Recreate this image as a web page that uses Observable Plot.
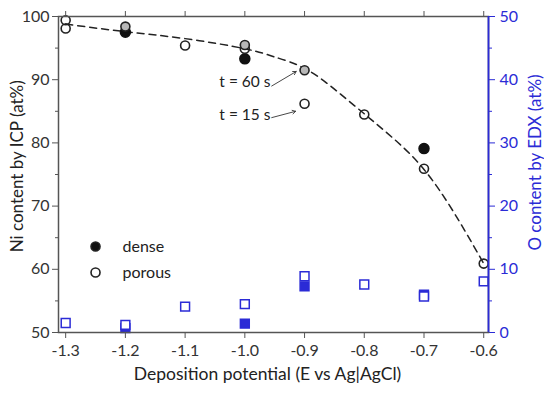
<!DOCTYPE html>
<html><head><meta charset="utf-8">
<script src="https://cdn.jsdelivr.net/npm/d3@7"></script>
<script src="https://cdn.jsdelivr.net/npm/@observablehq/plot@0.6"></script>
<style>body{margin:0;background:#fff} svg{display:block}</style>
</head><body><div id="chart"></div>
<script>
// ---- data ----
const potentials = [-1.3, -1.2, -1.1, -1.0, -0.9, -0.8, -0.7, -0.6];
const densePotential = [-1.2, -1.0, -0.7];
const denseNi = [97.5, 93.3, 79.1];
const porousPotential = [-1.3, -1.3, -1.1, -1.0, -0.9, -0.8, -0.7, -0.6];
const porousNi = [99.4, 98.1, 95.4, 94.9, 86.2, 84.5, 75.9, 60.9];
const greyPotential = [-1.2, -1.0, -0.9];
const greyNi = [98.4, 95.5, 91.5];
const fitPotential = [-1.3, -1.2, -1.1, -1.0, -0.95, -0.9, -0.85, -0.8, -0.75, -0.7, -0.65, -0.6];
const fitNi = [98.8, 97.6, 96.5, 94.9, 93.6, 91.8, 88.5, 84.6, 80.6, 75.8, 69.0, 60.9];
const oPorousPotential = [-1.3, -1.2, -1.1, -1.0, -0.9, -0.8, -0.7, -0.6];
const oPorous = [1.5, 1.2, 4.1, 4.5, 8.9, 7.6, 5.7, 8.1];
const oDensePotential = [-1.2, -1.0, -0.9, -0.7];
const oDense = [0.7, 1.4, 7.3, 6.0];
const niTicks = [50, 60, 70, 80, 90, 100];
const niMinor = [55, 65, 75, 85, 95];
const oTicks = [0, 10, 20, 30, 40, 50];
const oMinor = [5, 15, 25, 35, 45];
const legendLabels = ["dense", "porous"];
const legendNi = [63.6, 59.5];
const legendPotential = -1.25;
const annLabels = ["t = 60 s", "t = 15 s"];
const annTextPotential = -0.957;
const annTextNi = [89.6, 84.4];
const annFrom = [[-0.955, 89.0], [-0.955, 84.0]];
const annTo = [[-0.914, 91.3], [-0.915, 85.0]];
const xLabel = "Deposition potential (E vs Ag|AgCl)";
const yLabel = "Ni content by ICP (at%)";
const y2Label = "O content by EDX (at%)";
const yLabelAt = 76.3;   // vertical centre of the left title, on the Ni scale
const y2LabelAt = 76.9;  // vertical centre of the right title, on the Ni scale

// ---- helpers ----
const zip2 = (xs, ys) => xs.map((x, i) => ({x, y: ys[i]}));
const oOffset = 50; // O axis 0..50 maps onto Ni axis 50..100
const blue = "#2b2bd6";
const ink = "#333";
const font = "Lato, sans-serif";
const xDomain = [-1.312, -0.592];

const chart = Plot.plot({
  width: 544, height: 394,
  marginLeft: 58, marginRight: 56, marginTop: 16, marginBottom: 62,
  style: {fontFamily: font, background: "#fff"},
  x: {domain: xDomain},
  y: {domain: [50, 100]},
  marks: [
    Plot.line(zip2(fitPotential, fitNi), {x: "x", y: "y", curve: "natural", stroke: "#222", strokeWidth: 1.5, strokeDasharray: "7,5"}),
    Plot.dot(zip2(oDensePotential, oDense), {x: "x", y: d => d.y + oOffset, symbol: "square", r: 5, fill: blue, stroke: blue}),
    Plot.dot(zip2(oPorousPotential, oPorous), {x: "x", y: d => d.y + oOffset, symbol: "square", r: 5, fill: "white", stroke: blue, strokeWidth: 1.5}),
    Plot.dot(zip2(densePotential, denseNi), {x: "x", y: "y", r: 5, fill: "#111", stroke: "#111"}),
    Plot.dot(zip2(porousPotential, porousNi), {x: "x", y: "y", r: 4.5, fill: "none", stroke: "#222", strokeWidth: 1.6}),
    Plot.dot(zip2(greyPotential, greyNi), {x: "x", y: "y", r: 4.5, fill: "#b8b8b8", stroke: "#222", strokeWidth: 1.6}),
    // annotations
    Plot.text(annLabels, {x: () => annTextPotential, y: (d, i) => annTextNi[i], text: d => d, textAnchor: "end", fontSize: 15.5, fill: "#222"}),
    Plot.arrow(annLabels, {x1: (d, i) => annFrom[i][0], y1: (d, i) => annFrom[i][1], x2: (d, i) => annTo[i][0], y2: (d, i) => annTo[i][1], stroke: "#333", strokeWidth: 0.9, headLength: 6}),
    // legend
    Plot.dot(legendLabels, {x: () => legendPotential, y: (d, i) => legendNi[i], r: 4.5, fill: (d, i) => i === 0 ? "#111" : "none", stroke: "#222", strokeWidth: 1.6}),
    Plot.text(legendLabels, {x: () => legendPotential, y: (d, i) => legendNi[i], text: d => d, dx: 27, textAnchor: "start", fontSize: 16, fill: "#222"}),
    // axes
    Plot.axisX(potentials, {anchor: "bottom", tickSize: 6, tickPadding: 6, tickFormat: d => d.toFixed(1), fontSize: 16, color: ink, label: null, stroke: "#555"}),
    Plot.axisX(potentials, {anchor: "top", tickSize: 6, tickFormat: () => "", label: null, stroke: "#555"}),
    Plot.axisY(niTicks, {anchor: "left", tickSize: 6, tickPadding: 3, fontSize: 16, color: ink, label: null, stroke: "#555"}),
    Plot.axisY(niMinor, {anchor: "left", tickSize: 3, tickFormat: () => "", label: null, stroke: "#555"}),
    Plot.axisY(oTicks.map(v => v + oOffset), {anchor: "right", tickSize: 6, tickPadding: 5, tickFormat: v => String(v - oOffset), fontSize: 16, color: blue, label: null}),
    Plot.axisY(oMinor.map(v => v + oOffset), {anchor: "right", tickSize: 3, tickFormat: () => "", color: blue, label: null}),
    Plot.frame({stroke: "#555", strokeWidth: 1.5}),
    Plot.ruleX([xDomain[1]], {stroke: blue, strokeWidth: 1.8}),
    // axis titles
    Plot.text([xLabel], {frameAnchor: "bottom", text: d => d, dy: 42, dx: -6, fontSize: 17.5, fill: "#222", textAnchor: "middle", lineAnchor: "middle"}),
    Plot.text([yLabel], {frameAnchor: "left", y: () => yLabelAt, text: d => d, rotate: -90, dx: -41, fontSize: 17, fill: "#222", textAnchor: "middle", lineAnchor: "middle"}),
    Plot.text([y2Label], {frameAnchor: "right", y: () => y2LabelAt, text: d => d, rotate: -90, dx: 47, fontSize: 17, fill: blue, textAnchor: "middle", lineAnchor: "middle"})
  ]
});
document.getElementById("chart").appendChild(chart);
</script></body></html>
